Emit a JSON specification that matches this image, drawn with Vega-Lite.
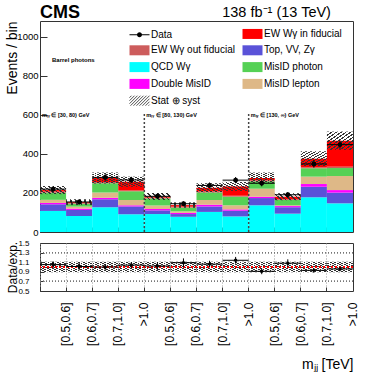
{
  "$schema": "https://vega.github.io/schema/vega-lite/v6.json",
  "padding": {"left": 4, "top": 3, "right": 0, "bottom": 0},
  "bounds": "flush",
  "spacing": 11,
  "resolve": {"scale": {"y": "independent"}},
  "config": {
    "font": "Liberation Sans",
    "view": {"stroke": "#333", "strokeWidth": 1},
    "axis": {"labelColor": "black", "titleColor": "black", "tickColor": "#333", "domain": false, "titleFontWeight": "normal"},
    "axisY": {"labelOverlap": false, "labelSeparation": 0},
    "axisQuantitative": {"labelOverlap": false}
  },
  "datasets": {
    "stack": [
      {"bin":1,"comp":"QCD Wγ","v":108},{"bin":1,"comp":"Top, VV, Zγ","v":34},{"bin":1,"comp":"Double MisID","v":7},{"bin":1,"comp":"MisID lepton","v":16},{"bin":1,"comp":"MisID photon","v":37},{"bin":1,"comp":"EW Wγ out fiducial","v":5},{"bin":1,"comp":"EW Wγ in fiducial","v":8},
      {"bin":2,"comp":"QCD Wγ","v":82},{"bin":2,"comp":"Top, VV, Zγ","v":31},{"bin":2,"comp":"Double MisID","v":7},{"bin":2,"comp":"MisID lepton","v":10},{"bin":2,"comp":"MisID photon","v":15},{"bin":2,"comp":"EW Wγ out fiducial","v":3},{"bin":2,"comp":"EW Wγ in fiducial","v":5},
      {"bin":3,"comp":"QCD Wγ","v":127},{"bin":3,"comp":"Top, VV, Zγ","v":41},{"bin":3,"comp":"Double MisID","v":8},{"bin":3,"comp":"MisID lepton","v":26},{"bin":3,"comp":"MisID photon","v":48},{"bin":3,"comp":"EW Wγ out fiducial","v":6},{"bin":3,"comp":"EW Wγ in fiducial","v":21},
      {"bin":4,"comp":"QCD Wγ","v":91},{"bin":4,"comp":"Top, VV, Zγ","v":40},{"bin":4,"comp":"Double MisID","v":6},{"bin":4,"comp":"MisID lepton","v":27},{"bin":4,"comp":"MisID photon","v":45},{"bin":4,"comp":"EW Wγ out fiducial","v":4},{"bin":4,"comp":"EW Wγ in fiducial","v":45},
      {"bin":5,"comp":"QCD Wγ","v":92},{"bin":5,"comp":"Top, VV, Zγ","v":19},{"bin":5,"comp":"Double MisID","v":7},{"bin":5,"comp":"MisID lepton","v":18},{"bin":5,"comp":"MisID photon","v":36},{"bin":5,"comp":"EW Wγ out fiducial","v":4},{"bin":5,"comp":"EW Wγ in fiducial","v":6},
      {"bin":6,"comp":"QCD Wγ","v":78},{"bin":6,"comp":"Top, VV, Zγ","v":14},{"bin":6,"comp":"Double MisID","v":6},{"bin":6,"comp":"MisID lepton","v":8},{"bin":6,"comp":"MisID photon","v":19},{"bin":6,"comp":"EW Wγ out fiducial","v":5},{"bin":6,"comp":"EW Wγ in fiducial","v":8},
      {"bin":7,"comp":"QCD Wγ","v":103},{"bin":7,"comp":"Top, VV, Zγ","v":28},{"bin":7,"comp":"Double MisID","v":9},{"bin":7,"comp":"MisID lepton","v":24},{"bin":7,"comp":"MisID photon","v":39},{"bin":7,"comp":"EW Wγ out fiducial","v":5},{"bin":7,"comp":"EW Wγ in fiducial","v":19},
      {"bin":8,"comp":"QCD Wγ","v":80},{"bin":8,"comp":"Top, VV, Zγ","v":29},{"bin":8,"comp":"Double MisID","v":7},{"bin":8,"comp":"MisID lepton","v":21},{"bin":8,"comp":"MisID photon","v":44},{"bin":8,"comp":"EW Wγ out fiducial","v":5},{"bin":8,"comp":"EW Wγ in fiducial","v":48},
      {"bin":9,"comp":"QCD Wγ","v":137},{"bin":9,"comp":"Top, VV, Zγ","v":37},{"bin":9,"comp":"Double MisID","v":7},{"bin":9,"comp":"MisID lepton","v":41},{"bin":9,"comp":"MisID photon","v":38},{"bin":9,"comp":"EW Wγ out fiducial","v":5},{"bin":9,"comp":"EW Wγ in fiducial","v":12},
      {"bin":10,"comp":"QCD Wγ","v":94},{"bin":10,"comp":"Top, VV, Zγ","v":33},{"bin":10,"comp":"Double MisID","v":6},{"bin":10,"comp":"MisID lepton","v":4},{"bin":10,"comp":"MisID photon","v":27},{"bin":10,"comp":"EW Wγ out fiducial","v":4},{"bin":10,"comp":"EW Wγ in fiducial","v":13},
      {"bin":11,"comp":"QCD Wγ","v":178},{"bin":11,"comp":"Top, VV, Zγ","v":54},{"bin":11,"comp":"Double MisID","v":14},{"bin":11,"comp":"MisID lepton","v":38},{"bin":11,"comp":"MisID photon","v":43},{"bin":11,"comp":"EW Wγ out fiducial","v":5},{"bin":11,"comp":"EW Wγ in fiducial","v":44},
      {"bin":12,"comp":"QCD Wγ","v":147},{"bin":12,"comp":"Top, VV, Zγ","v":55},{"bin":12,"comp":"Double MisID","v":13},{"bin":12,"comp":"MisID lepton","v":72},{"bin":12,"comp":"MisID photon","v":41},{"bin":12,"comp":"EW Wγ out fiducial","v":7},{"bin":12,"comp":"EW Wγ in fiducial","v":133}
    ],
    "meas": [
      {"bin":1,"data":220,"dlo":205,"dhi":235,"ulo":194,"uhi":236,"ratio":1.05,"rlo":0.98,"rhi":1.12,"blo":0.89,"bhi":1.11},
      {"bin":2,"data":154,"dlo":142,"dhi":166,"ulo":138,"uhi":168,"ratio":1.01,"rlo":0.93,"rhi":1.09,"blo":0.89,"bhi":1.11},
      {"bin":3,"data":280,"dlo":263,"dhi":297,"ulo":249,"uhi":305,"ratio":1.00,"rlo":0.94,"rhi":1.06,"blo":0.89,"bhi":1.11},
      {"bin":4,"data":267,"dlo":251,"dhi":283,"ulo":232,"uhi":284,"ratio":1.04,"rlo":0.98,"rhi":1.10,"blo":0.89,"bhi":1.11},
      {"bin":5,"data":183,"dlo":169,"dhi":197,"ulo":164,"uhi":200,"ratio":1.02,"rlo":0.94,"rhi":1.10,"blo":0.89,"bhi":1.11},
      {"bin":6,"data":145,"dlo":133,"dhi":157,"ulo":124,"uhi":152,"ratio":1.09,"rlo":1.00,"rhi":1.18,"blo":0.89,"bhi":1.11},
      {"bin":7,"data":239,"dlo":224,"dhi":254,"ulo":204,"uhi":250,"ratio":1.06,"rlo":0.99,"rhi":1.13,"blo":0.89,"bhi":1.11},
      {"bin":8,"data":266,"dlo":250,"dhi":282,"ulo":211,"uhi":257,"ratio":1.14,"rlo":1.07,"rhi":1.21,"blo":0.89,"bhi":1.11},
      {"bin":9,"data":250,"dlo":234,"dhi":266,"ulo":249,"uhi":305,"ratio":0.91,"rlo":0.85,"rhi":0.97,"blo":0.89,"bhi":1.11},
      {"bin":10,"data":191,"dlo":177,"dhi":205,"ulo":163,"uhi":199,"ratio":1.08,"rlo":1.00,"rhi":1.16,"blo":0.89,"bhi":1.11},
      {"bin":11,"data":349,"dlo":330,"dhi":368,"ulo":338,"uhi":414,"ratio":0.93,"rlo":0.88,"rhi":0.98,"blo":0.89,"bhi":1.11},
      {"bin":12,"data":448,"dlo":427,"dhi":469,"ulo":421,"uhi":515,"ratio":0.96,"rlo":0.91,"rhi":1.01,"blo":0.89,"bhi":1.11}
    ],
    "regions": [
      {"bin":1,"label":"mₗᵧ ∈ [30, 80) GeV"},
      {"bin":5,"label":"mₗᵧ ∈ [80, 130) GeV"},
      {"bin":9,"label":"mₗᵧ ∈ [130, ∞) GeV"}
    ],
    "notes": [
      {"bin":1,"t":"CMS"}
    ],
    "lumi": [
      {"bin":12,"t":"138 fb⁻¹ (13 TeV)"}
    ],
    "barrel": [
      {"bin":1,"t":"Barrel photons"}
    ]
  },
  "vconcat": [
    {
      "width": 313,
      "height": 211,
      "layer": [
        {
          "data": {"name": "stack"},
          "transform": [{"calculate": "indexof(['QCD Wγ','Top, VV, Zγ','Double MisID','MisID lepton','MisID photon','EW Wγ out fiducial','EW Wγ in fiducial'], datum.comp)", "as": "k"}],
          "mark": {"type": "bar"},
          "encoding": {
            "x": {"field": "bin", "type": "ordinal", "scale": {"paddingInner": 0, "paddingOuter": 0},
                  "axis": {"title": null, "labels": false, "bandPosition": 0, "tickSize": -5, "grid": false}},
            "y": {"field": "v", "type": "quantitative", "stack": "zero", "scale": {"domain": [0, 1082], "nice": false},
                  "axis": {"title": "Events / bin", "titleAnchor": "end", "titleFontSize": 14, "titleX": -28, "titleBaseline": "middle",
                           "values": [0, 200, 400, 600, 800, 1000], "format": "d",
                           "labelOverlap": false, "labelFlush": false,
                           "tickSize": -7, "labelPadding": 9, "labelFontSize": 9.5, "grid": false}},
            "color": {"field": "comp", "type": "nominal",
                      "scale": {"domain": ["Data","EW Wγ out fiducial","QCD Wγ","Double MisID","Stat ⊕ syst","EW Wγ in fiducial","Top, VV, Zγ","MisID photon","MisID lepton"],
                                "range": ["#000000","#cd5c5c","#00ffff","#ff00ff","#888888","#ff0000","#5a52d8","#55d155","#deb887"]},
                      "legend": {"orient": "none", "legendX": 89, "legendY": 7, "columns": 2, "title": null,
                                 "symbolSize": 100, "labelFontSize": 10, "labelFont": "Liberation Sans", "labelColor": "black",
                                 "labelOffset": 11, "columnPadding": 5, "rowPadding": 1.8, "padding": 0, "symbolStrokeWidth": 0.8,
                                 "encode": {"symbols": {"update": {
                                   "shape": {"signal": "datum.value === 'Data' ? 'M-1,-0.1H3V0.1H-1Z M1.5,0A0.5,0.5,0,1,1,0.5,0A0.5,0.5,0,1,1,1.5,0Z' : datum.value === 'Stat ⊕ syst' ? 'M-1,-0.6L-0.6,-1M-1,0L0,-1M-1,0.6L0.6,-1M-0.8,1L1.2,-1M-0.2,1L1.8,-1M0.4,1L2.4,-1M1,1L3,-1M1.6,1L3,-0.4M2.2,1L3,0.2M2.8,1L3,0.8' : 'M-1,-1H3V1H-1Z'"},
                                   "fill": {"signal": "datum.value === 'Stat ⊕ syst' ? 'transparent' : scale('color', datum.value)"},
                                   "stroke": {"signal": "datum.value === 'Stat ⊕ syst' ? '#222' : 'transparent'"},
                                   "strokeWidth": {"value": 0.8},
                                   "opacity": {"value": 1}
                                 }}}}},
            "order": {"field": "k", "type": "quantitative"}
          }
        },
        {
          "data": {"name": "meas"},
          "mark": {"type": "bar", "fill": {"gradient": "linear", "x1": 0, "y1": 0, "x2": 1, "y2": 1, "stops": [
            {"offset":0,"color":"#333"},{"offset":0.035,"color":"#333"},{"offset":0.035,"color":"rgba(255,255,255,0)"},{"offset":0.0909,"color":"rgba(255,255,255,0)"},
            {"offset":0.0909,"color":"#333"},{"offset":0.1259,"color":"#333"},{"offset":0.1259,"color":"rgba(255,255,255,0)"},{"offset":0.1818,"color":"rgba(255,255,255,0)"},
            {"offset":0.1818,"color":"#333"},{"offset":0.2168,"color":"#333"},{"offset":0.2168,"color":"rgba(255,255,255,0)"},{"offset":0.2727,"color":"rgba(255,255,255,0)"},
            {"offset":0.2727,"color":"#333"},{"offset":0.3077,"color":"#333"},{"offset":0.3077,"color":"rgba(255,255,255,0)"},{"offset":0.3636,"color":"rgba(255,255,255,0)"},
            {"offset":0.3636,"color":"#333"},{"offset":0.3986,"color":"#333"},{"offset":0.3986,"color":"rgba(255,255,255,0)"},{"offset":0.4545,"color":"rgba(255,255,255,0)"},
            {"offset":0.4545,"color":"#333"},{"offset":0.4895,"color":"#333"},{"offset":0.4895,"color":"rgba(255,255,255,0)"},{"offset":0.5455,"color":"rgba(255,255,255,0)"},
            {"offset":0.5455,"color":"#333"},{"offset":0.5805,"color":"#333"},{"offset":0.5805,"color":"rgba(255,255,255,0)"},{"offset":0.6364,"color":"rgba(255,255,255,0)"},
            {"offset":0.6364,"color":"#333"},{"offset":0.6714,"color":"#333"},{"offset":0.6714,"color":"rgba(255,255,255,0)"},{"offset":0.7273,"color":"rgba(255,255,255,0)"},
            {"offset":0.7273,"color":"#333"},{"offset":0.7623,"color":"#333"},{"offset":0.7623,"color":"rgba(255,255,255,0)"},{"offset":0.8182,"color":"rgba(255,255,255,0)"},
            {"offset":0.8182,"color":"#333"},{"offset":0.8532,"color":"#333"},{"offset":0.8532,"color":"rgba(255,255,255,0)"},{"offset":0.9091,"color":"rgba(255,255,255,0)"},
            {"offset":0.9091,"color":"#333"},{"offset":0.9441,"color":"#333"},{"offset":0.9441,"color":"rgba(255,255,255,0)"},{"offset":1,"color":"rgba(255,255,255,0)"}
          ]}},
          "encoding": {
            "x": {"field": "bin", "type": "ordinal"},
            "y": {"field": "ulo", "type": "quantitative"},
            "y2": {"field": "uhi"}
          }
        },
        {
          "data": {"name": "meas"},
          "mark": {"type": "tick", "orient": "horizontal", "size": 26.08, "thickness": 1, "color": "#000", "opacity": 1},
          "encoding": {"x": {"field": "bin", "type": "ordinal"}, "y": {"field": "data", "type": "quantitative"}}
        },
        {
          "data": {"name": "meas"},
          "mark": {"type": "rule", "color": "#000", "strokeWidth": 1},
          "encoding": {"x": {"field": "bin", "type": "ordinal"}, "y": {"field": "dlo", "type": "quantitative"}, "y2": {"field": "dhi"}}
        },
        {
          "data": {"name": "meas"},
          "mark": {"type": "point", "filled": true, "color": "#000", "size": 24, "opacity": 1},
          "encoding": {"x": {"field": "bin", "type": "ordinal"}, "y": {"field": "data", "type": "quantitative"}}
        },
        {
          "data": {"name": "regions"},
          "transform": [{"filter": "datum.bin > 1"}],
          "mark": {"type": "rule", "strokeDash": [2, 2], "color": "#444", "strokeWidth": 1.5},
          "encoding": {"x": {"field": "bin", "type": "ordinal", "bandPosition": 0}, "y": {"datum": 0}, "y2": {"datum": 605}}
        },
        {
          "data": {"name": "regions"},
          "mark": {"type": "text", "align": "left", "baseline": "middle", "dx": 2, "fontSize": 5.5, "fontWeight": "bold", "color": "#000"},
          "encoding": {"x": {"field": "bin", "type": "ordinal", "bandPosition": 0}, "y": {"datum": 600}, "text": {"field": "label"}}
        },
        {
          "data": {"name": "barrel"},
          "mark": {"type": "text", "align": "left", "baseline": "middle", "dx": 12, "fontSize": 6, "fontWeight": "bold", "color": "#000"},
          "encoding": {"x": {"field": "bin", "type": "ordinal", "bandPosition": 0}, "y": {"datum": 882}, "text": {"field": "t"}}
        },
        {
          "data": {"name": "notes"},
          "mark": {"type": "text", "align": "left", "baseline": "alphabetic", "dy": -3, "fontSize": 18, "fontWeight": "bold", "color": "#000"},
          "encoding": {"x": {"field": "bin", "type": "ordinal", "bandPosition": 0}, "y": {"datum": 1082}, "text": {"field": "t"}}
        },
        {
          "data": {"name": "lumi"},
          "mark": {"type": "text", "align": "right", "baseline": "alphabetic", "dy": -4, "dx": -9, "fontSize": 14.5, "color": "#000"},
          "encoding": {"x": {"field": "bin", "type": "ordinal", "bandPosition": 0.5}, "y": {"datum": 1082}, "text": {"field": "t"}}
        }
      ]
    },
    {
      "width": 313,
      "height": 48,
      "data": {"name": "meas"},
      "layer": [
        {
          "mark": {"type": "bar", "fill": {"gradient": "linear", "x1": 0, "y1": 0, "x2": 1, "y2": 1, "stops": [
            {"offset":0,"color":"#333"},{"offset":0.035,"color":"#333"},{"offset":0.035,"color":"rgba(255,255,255,0)"},{"offset":0.0909,"color":"rgba(255,255,255,0)"},
            {"offset":0.0909,"color":"#333"},{"offset":0.1259,"color":"#333"},{"offset":0.1259,"color":"rgba(255,255,255,0)"},{"offset":0.1818,"color":"rgba(255,255,255,0)"},
            {"offset":0.1818,"color":"#333"},{"offset":0.2168,"color":"#333"},{"offset":0.2168,"color":"rgba(255,255,255,0)"},{"offset":0.2727,"color":"rgba(255,255,255,0)"},
            {"offset":0.2727,"color":"#333"},{"offset":0.3077,"color":"#333"},{"offset":0.3077,"color":"rgba(255,255,255,0)"},{"offset":0.3636,"color":"rgba(255,255,255,0)"},
            {"offset":0.3636,"color":"#333"},{"offset":0.3986,"color":"#333"},{"offset":0.3986,"color":"rgba(255,255,255,0)"},{"offset":0.4545,"color":"rgba(255,255,255,0)"},
            {"offset":0.4545,"color":"#333"},{"offset":0.4895,"color":"#333"},{"offset":0.4895,"color":"rgba(255,255,255,0)"},{"offset":0.5455,"color":"rgba(255,255,255,0)"},
            {"offset":0.5455,"color":"#333"},{"offset":0.5805,"color":"#333"},{"offset":0.5805,"color":"rgba(255,255,255,0)"},{"offset":0.6364,"color":"rgba(255,255,255,0)"},
            {"offset":0.6364,"color":"#333"},{"offset":0.6714,"color":"#333"},{"offset":0.6714,"color":"rgba(255,255,255,0)"},{"offset":0.7273,"color":"rgba(255,255,255,0)"},
            {"offset":0.7273,"color":"#333"},{"offset":0.7623,"color":"#333"},{"offset":0.7623,"color":"rgba(255,255,255,0)"},{"offset":0.8182,"color":"rgba(255,255,255,0)"},
            {"offset":0.8182,"color":"#333"},{"offset":0.8532,"color":"#333"},{"offset":0.8532,"color":"rgba(255,255,255,0)"},{"offset":0.9091,"color":"rgba(255,255,255,0)"},
            {"offset":0.9091,"color":"#333"},{"offset":0.9441,"color":"#333"},{"offset":0.9441,"color":"rgba(255,255,255,0)"},{"offset":1,"color":"rgba(255,255,255,0)"}
          ]}},
          "encoding": {
            "x": {"field": "bin", "type": "ordinal", "scale": {"paddingInner": 0, "paddingOuter": 0},
                  "axis": {"title": "mⱼⱼ [TeV]", "titleAnchor": "end", "titleFontSize": 14, "titleY": 77, "titleBaseline": "alphabetic",
                           "labelAngle": 270, "labelOffset": 13, "bandPosition": 0, "labelFontSize": 12, "labelPadding": 15,
                           "labelExpr": "['[0.5,0.6]','[0.6,0.7]','[0.7,1.0]','>1.0'][(toNumber(datum.value) - 1) % 4]",
                           "tickSize": -4, "grid": true, "gridDash": [1, 2], "gridColor": "#999"}},
            "y": {"field": "blo", "type": "quantitative", "scale": {"domain": [0.5, 1.5], "nice": false},
                  "axis": {"title": "Data/exp.", "titleFontSize": 12, "titleX": -28, "titleBaseline": "middle",
                           "values": [0.5, 0.7, 0.9, 1.1, 1.3, 1.5], "tickCount": 6, "format": ".1f", "labelFontSize": 8, "tickSize": -4, "labelPadding": 15,
                           "labelOverlap": false, "labelFlush": false, "labelBound": false, "labelSeparation": 0, "labelBaseline": "middle", "grid": false}},
            "y2": {"field": "bhi"}
          }
        },
        {
          "mark": {"type": "rule", "color": "#777", "strokeDash": [1, 2], "strokeWidth": 1},
          "encoding": {"y": {"datum": 0.7}}
        },
        {
          "mark": {"type": "rule", "color": "#777", "strokeDash": [1, 2], "strokeWidth": 1},
          "encoding": {"y": {"datum": 1.3}}
        },
        {
          "mark": {"type": "rule", "color": "#ff0000", "strokeDash": [2, 2], "strokeWidth": 1},
          "encoding": {"y": {"datum": 1}}
        },
        {
          "mark": {"type": "tick", "orient": "horizontal", "size": 26.08, "thickness": 1, "color": "#000", "opacity": 1},
          "encoding": {"x": {"field": "bin", "type": "ordinal"}, "y": {"field": "ratio", "type": "quantitative"}}
        },
        {
          "mark": {"type": "rule", "color": "#000", "strokeWidth": 1},
          "encoding": {"x": {"field": "bin", "type": "ordinal"}, "y": {"field": "rlo", "type": "quantitative"}, "y2": {"field": "rhi"}}
        },
        {
          "mark": {"type": "point", "filled": true, "color": "#000", "size": 12, "opacity": 1},
          "encoding": {"x": {"field": "bin", "type": "ordinal"}, "y": {"field": "ratio", "type": "quantitative"}}
        }
      ]
    }
  ]
}
